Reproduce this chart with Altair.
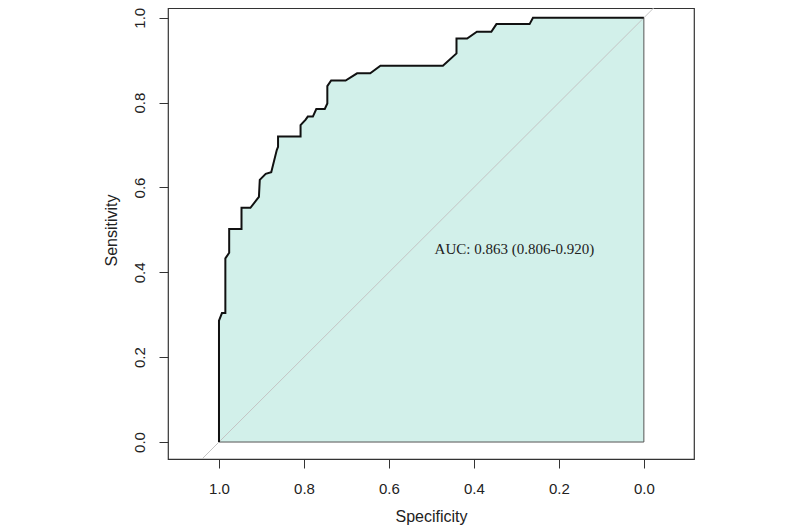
import altair as alt
import pandas as pd

# ROC curve points (specificity, sensitivity)
spec = [1.000, 1.000, 0.993, 0.985, 0.985, 0.976, 0.976, 0.947, 0.947, 0.926,
        0.906, 0.904, 0.890, 0.877, 0.864, 0.861, 0.861, 0.808, 0.808, 0.796,
        0.791, 0.779, 0.771, 0.751, 0.745, 0.745, 0.736, 0.702, 0.675, 0.644,
        0.620, 0.473, 0.441, 0.441, 0.416, 0.393, 0.359, 0.347, 0.269, 0.261,
        0.000]
sens = [0.000, 0.286, 0.304, 0.304, 0.433, 0.446, 0.502, 0.502, 0.552, 0.552,
        0.578, 0.618, 0.632, 0.636, 0.688, 0.696, 0.720, 0.720, 0.747, 0.760,
        0.767, 0.767, 0.785, 0.785, 0.798, 0.839, 0.852, 0.852, 0.869, 0.869,
        0.887, 0.887, 0.916, 0.951, 0.951, 0.967, 0.967, 0.985, 0.985, 1.000,
        1.000]

# closing edges of the filled polygon
edge_spec = [0.0, 0.0, 1.0]
edge_sens = [1.0, 0.0, 0.0]

# chance diagonal (sensitivity = 1 - specificity), clipped to the plot
diag_spec = [2.0, -1.0]
diag_sens = [-1.0, 2.0]

ticks = [0.0, 0.2, 0.4, 0.6, 0.8, 1.0]
auc_label = "AUC: 0.863 (0.806-0.920)"
auc_pos = (0.4925, 0.455)

roc = pd.DataFrame({"spec": spec, "sens": sens, "i": range(len(spec))})
poly_spec = spec + edge_spec[1:]
poly_sens = sens + edge_sens[1:]
poly = pd.DataFrame({"spec": poly_spec, "sens": poly_sens, "i": range(len(poly_spec))})
edge = pd.DataFrame({"spec": edge_spec, "sens": edge_sens, "i": range(3)})
diag = pd.DataFrame({"spec": diag_spec, "sens": diag_sens})
lab = pd.DataFrame({"spec": [auc_pos[0]], "sens": [auc_pos[1]], "t": [auc_label]})

W, H = 526, 451
SANS = "Liberation Sans"

xscale = alt.Scale(domain=[-0.118, 1.12], reverse=True, zero=False, nice=False)
yscale = alt.Scale(domain=[-0.04, 1.023], zero=False, nice=False)

xaxis = alt.Axis(values=ticks, format=".1f", grid=False, domain=False, tickSize=9,
                 tickColor="#333", tickWidth=1, labelFont=SANS, labelFontSize=15,
                 labelColor="#222", labelPadding=13, title="Specificity",
                 titleFont=SANS, titleFontSize=16, titleFontWeight="normal",
                 titleColor="#222", titleX=W / 2, titleY=57, titleAlign="center",
                 titleBaseline="middle", labelFlush=False)
yaxis = alt.Axis(values=ticks, format=".1f", grid=False, domain=False, tickSize=9,
                 tickColor="#333", tickWidth=1, labelFont=SANS, labelFontSize=15,
                 labelColor="#222", labelPadding=12, labelAngle=270,
                 labelAlign="center", labelBaseline="bottom", labelFlush=False,
                 title="Sensitivity", titleFont=SANS, titleFontSize=16,
                 titleFontWeight="normal", titleColor="#222", titleX=-57,
                 titleY=222, titleAngle=270, titleAlign="center",
                 titleBaseline="middle")

fill = alt.Chart(poly).mark_line(filled=True, color="#d2f0ea", opacity=1).encode(
    x=alt.X("spec:Q", scale=xscale, axis=xaxis),
    y=alt.Y("sens:Q", scale=yscale, axis=yaxis),
    order="i:Q",
)

edges = alt.Chart(edge).mark_line(color="#555", strokeWidth=1).encode(
    x=alt.X("spec:Q", scale=xscale), y=alt.Y("sens:Q", scale=yscale), order="i:Q"
)

diagonal = alt.Chart(diag).mark_line(color="#c4c4c4", strokeWidth=1, clip=True).encode(
    x=alt.X("spec:Q", scale=xscale), y=alt.Y("sens:Q", scale=yscale)
)

curve = alt.Chart(roc).mark_line(color="#111", strokeWidth=2, strokeJoin="miter").encode(
    x=alt.X("spec:Q", scale=xscale), y=alt.Y("sens:Q", scale=yscale), order="i:Q"
)

text = alt.Chart(lab).mark_text(font="Liberation Serif", fontSize=15, align="left",
                                baseline="middle", color="#222").encode(
    x=alt.X("spec:Q", scale=xscale), y=alt.Y("sens:Q", scale=yscale), text="t:N"
)

chart = alt.layer(fill, edges, diagonal, curve, text).properties(
    width=W, height=H,
    autosize=alt.AutoSizeParams(type="none"),
    padding={"left": 160, "top": 0, "right": 60, "bottom": 68},
).configure_view(stroke="#333", strokeWidth=1.2)

chart.save("out.html", embed_options={"renderer": "svg", "actions": False})
